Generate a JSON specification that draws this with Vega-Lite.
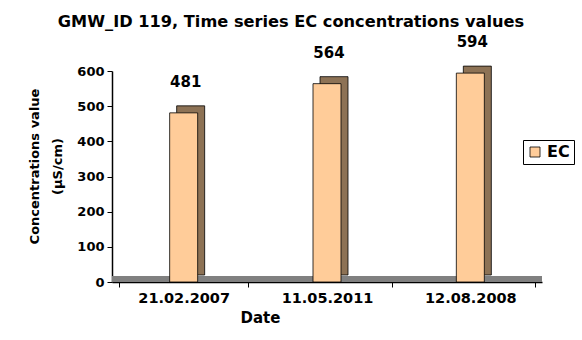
{
  "$schema": "https://vega.github.io/schema/vega-lite/v6.json",
  "width": 430,
  "height": 211,
  "autosize": "none",
  "padding": {"left": 112, "top": 71, "right": 40, "bottom": 58},
  "background": "white",
  "config": {
    "font": "DejaVu Sans",
    "view": {"stroke": null},
    "axis": {"grid": false, "domainColor": "black", "tickColor": "black", "labelColor": "black", "titleColor": "black", "labelFont": "DejaVu Sans", "titleFont": "DejaVu Sans"}
  },
  "title": {
    "text": "GMW_ID 119, Time series EC concentrations values",
    "font": "DejaVu Sans",
    "fontSize": 16.2,
    "fontWeight": "bold",
    "color": "black",
    "anchor": "middle",
    "dx": -36,
    "offset": 5
  },
  "data": {
    "values": [
      {"Date": "21.02.2007", "value": 481, "series": "EC"},
      {"Date": "11.05.2011", "value": 564, "series": "EC"},
      {"Date": "12.08.2008", "value": 594, "series": "EC"}
    ]
  },
  "encoding": {
    "x": {
      "field": "Date",
      "type": "nominal",
      "sort": null,
      "axis": {"title": "Date", "labelAngle": 0, "labelFontSize": 14.5, "labelFontWeight": "bold", "titleFontSize": 15, "titleFontWeight": "bold", "tickBand": "extent", "tickSize": 5, "labelPadding": 4, "titlePadding": 6, "titleX": 148, "titleAnchor": "middle", "domainWidth": 1.5}
    }
  },
  "layer": [
    {
      "mark": {"type": "rule", "color": "#808080", "strokeWidth": 6, "yOffset": -3},
      "encoding": {
        "x": null,
        "y": {
          "datum": 0,
          "type": "quantitative",
          "scale": {"domain": [0, 600]},
          "axis": {"title": ["Concentrations value", "(µS/cm)"], "values": [0, 100, 200, 300, 400, 500, 600], "labelOverlap": false, "labelFontSize": 13, "labelFontWeight": "bold", "labelPadding": 3, "titleFontSize": 13, "titleFontWeight": "bold", "titleLineHeight": 23, "titleY": 95, "tickSize": 5, "titlePadding": 12, "domainWidth": 1.5}
        }
      }
    },
    {
      "mark": {"type": "bar", "size": 28, "color": "#8d7255", "stroke": "black", "strokeWidth": 0.8, "xOffset": 7, "yOffset": -7},
      "encoding": {
        "y": {
          "field": "value",
          "type": "quantitative",
          "scale": {"domain": [0, 600]},
          "axis": {"title": ["Concentrations value", "(µS/cm)"], "values": [0, 100, 200, 300, 400, 500, 600], "labelOverlap": false, "labelFontSize": 13, "labelFontWeight": "bold", "labelPadding": 3, "titleFontSize": 13, "titleFontWeight": "bold", "titleLineHeight": 23, "titleY": 95, "tickSize": 5, "titlePadding": 12, "domainWidth": 1.5}
        }
      }
    },
    {
      "mark": {"type": "bar", "size": 28, "stroke": "black", "strokeWidth": 0.8},
      "encoding": {
        "y": {
          "field": "value",
          "type": "quantitative",
          "scale": {"domain": [0, 600]},
          "axis": {"title": ["Concentrations value", "(µS/cm)"], "values": [0, 100, 200, 300, 400, 500, 600], "labelOverlap": false, "labelFontSize": 13, "labelFontWeight": "bold", "labelPadding": 3, "titleFontSize": 13, "titleFontWeight": "bold", "titleLineHeight": 23, "titleY": 95, "tickSize": 5, "titlePadding": 12, "domainWidth": 1.5}
        },
        "color": {
          "field": "series",
          "type": "nominal",
          "scale": {"range": ["#FFCC99"]},
          "legend": {"title": null, "orient": "none", "legendX": 411, "legendY": 69, "labelFont": "DejaVu Sans", "labelFontSize": 16, "labelFontWeight": "bold", "labelColor": "black", "symbolType": "square", "symbolSize": 100, "symbolStrokeColor": "black", "symbolStrokeWidth": 0.8, "strokeColor": "black", "padding": 4, "fillColor": "white"}
        }
      }
    },
    {
      "mark": {"type": "text", "font": "DejaVu Sans", "fontSize": 15, "fontWeight": "bold", "baseline": "alphabetic", "dy": -26, "dx": 2, "color": "black"},
      "encoding": {
        "y": {
          "field": "value",
          "type": "quantitative",
          "scale": {"domain": [0, 600]},
          "axis": {"title": ["Concentrations value", "(µS/cm)"], "values": [0, 100, 200, 300, 400, 500, 600], "labelOverlap": false, "labelFontSize": 13, "labelFontWeight": "bold", "labelPadding": 3, "titleFontSize": 13, "titleFontWeight": "bold", "titleLineHeight": 23, "titleY": 95, "tickSize": 5, "titlePadding": 12, "domainWidth": 1.5}
        },
        "text": {"field": "value", "type": "quantitative"}
      }
    }
  ]
}
